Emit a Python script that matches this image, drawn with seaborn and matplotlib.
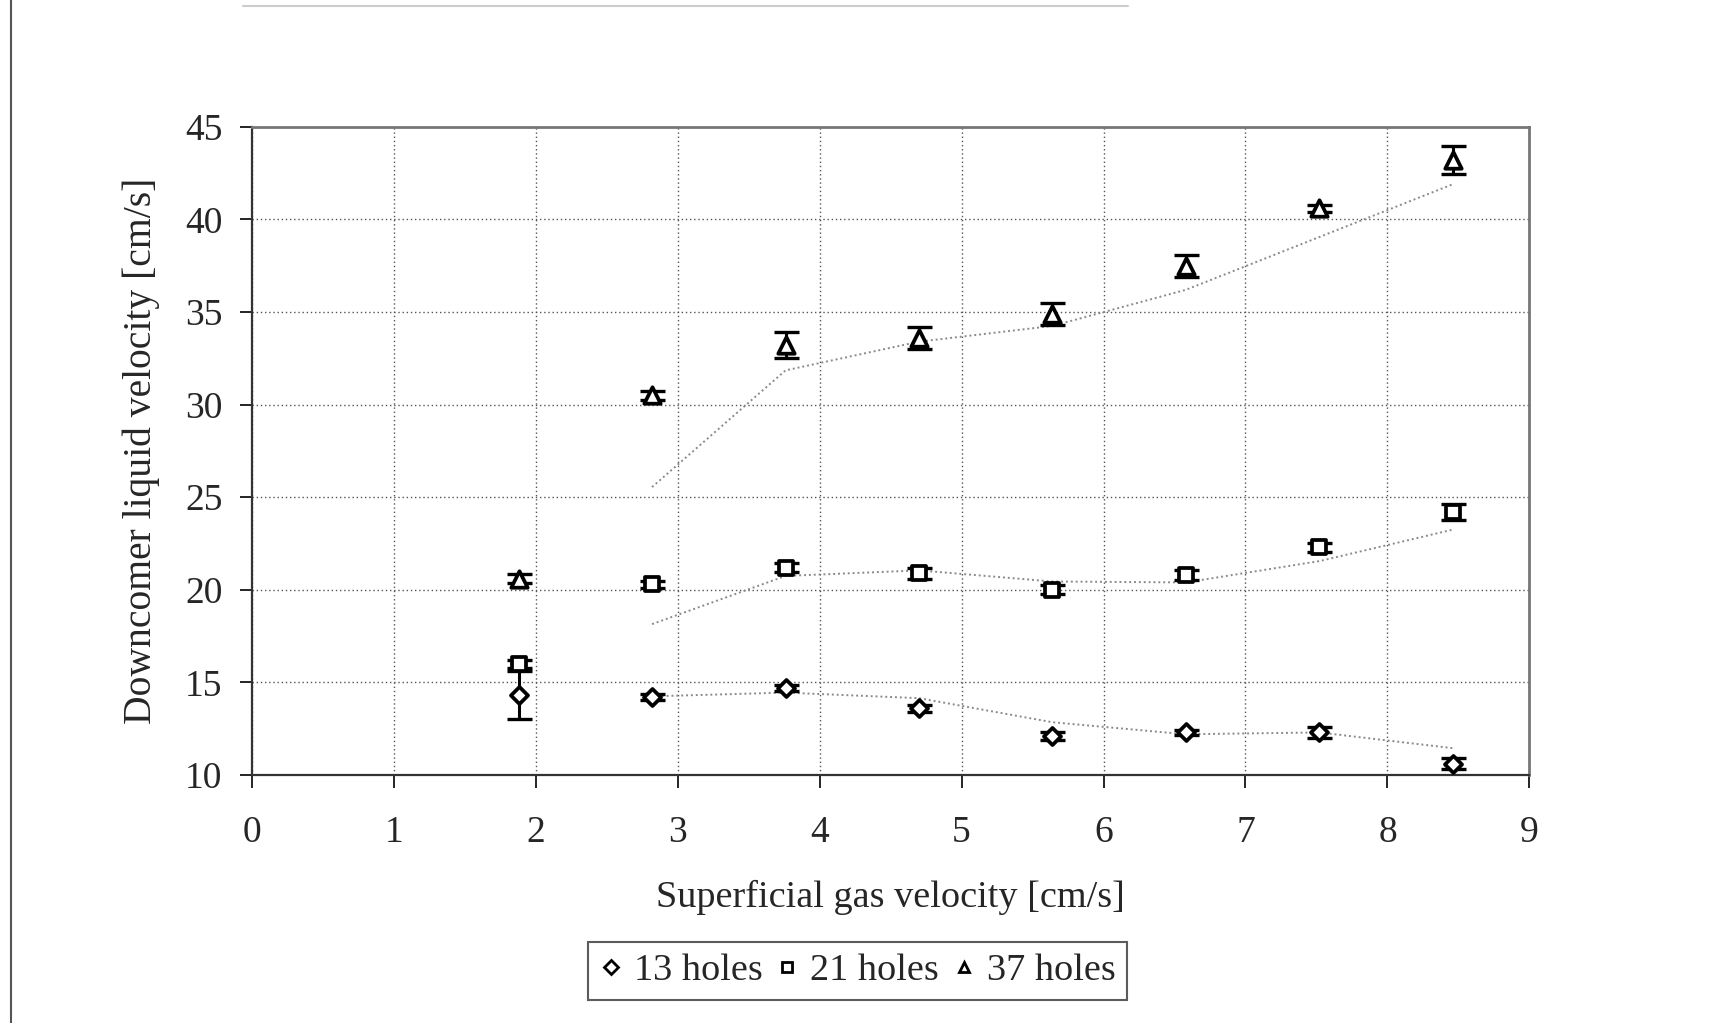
import numpy as np
import pandas as pd
import matplotlib.pyplot as plt
import seaborn as sns
from matplotlib.lines import Line2D

# velocidade superficial do gas [cm/s]
ug = [1.88, 2.82, 3.76, 4.70, 5.64, 6.58, 7.52, 8.46]

# velocidade do liquido no downcomer [cm/s]
v13 = [14.3, 14.2, 14.7, 13.6, 12.1, 12.3, 12.3, 10.6]
v21 = [16.0, 20.3, 21.2, 20.9, 20.0, 20.8, 22.3, 24.2]
v37 = [20.6, 30.5, 33.2, 33.6, 34.9, 37.5, 40.6, 43.2]

# barras de erro
e13 = [1.3, 0.15, 0.15, 0.2, 0.2, 0.15, 0.3, 0.3]
e21 = [0.2, 0.2, 0.25, 0.3, 0.25, 0.25, 0.25, 0.45]
e37 = [0.25, 0.25, 0.7, 0.6, 0.6, 0.6, 0.2, 0.75]

series = ['13 holes', '21 holes', '37 holes']

frames = []
for nome, v, e in zip(series, [v13, v21, v37], [e13, e21, e37]):
    d = pd.DataFrame({'ug': ug, 'vl': v, 'err': e})
    d['serie'] = nome
    # media movel de 2 periodos (linha de tendencia)
    d['mm'] = d['vl'].rolling(2).mean()
    frames.append(d)
df = pd.concat(frames, ignore_index=True)

sns.set_theme(style='white')
plt.rcParams['font.family'] = ['Liberation Serif', 'DejaVu Serif']

fig = plt.figure(figsize=(17.36, 10.23), dpi=100)
ax = fig.add_axes([0.145, 0.2424, 0.736, 0.6336])

# linhas de tendencia
sns.lineplot(data=df.dropna(subset=['mm']), x='ug', y='mm', units='serie', estimator=None,
             color='#8a8a8a', lw=1.4, ls=(0, (1, 1.5)), ax=ax, legend=False)

# barras de erro
for nome in series:
    d = df[df['serie'] == nome]
    ax.errorbar(d['ug'], d['vl'], yerr=d['err'], fmt='none', ecolor='black',
                elinewidth=2.2, capsize=9, capthick=2.4, zorder=3)

marcadores = {'13 holes': 'D', '21 holes': 's', '37 holes': '^'}
tamanhos = {'13 holes': 75, '21 holes': 100, '37 holes': 140}
for nome in series:
    d = df[df['serie'] == nome]
    sns.scatterplot(data=d, x='ug', y='vl', marker=marcadores[nome], s=tamanhos[nome],
                    color='white', edgecolor='black', linewidth=2.7, zorder=4,
                    label=nome, ax=ax)
for col in ax.collections:
    if col.get_label() in series:
        col.set_facecolor('white')

ax.set_xlim(0, 9)
ax.set_ylim(10, 45)
ax.set_xticks(range(0, 10))
ax.set_yticks(range(10, 46, 5))
ax.grid(True, color='#555555', ls=(0, (1, 2)), lw=1.0)
ax.tick_params(axis='both', labelsize=27, direction='out', length=9, width=1.2,
               color='black', bottom=True, left=True)
ax.tick_params(axis='x', pad=20)
ax.tick_params(axis='y', pad=12)
for lado in ['top', 'right']:
    ax.spines[lado].set_color('#777777')
    ax.spines[lado].set_linewidth(2)
for lado in ['left', 'bottom']:
    ax.spines[lado].set_color('#333333')
    ax.spines[lado].set_linewidth(1.6)

ax.set_xlabel('Superficial gas velocity [cm/s]', fontsize=27.5, labelpad=22)
ax.set_ylabel('Downcomer liquid velocity [cm/s]', fontsize=28.5, labelpad=18)

handles = [Line2D([], [], ls='none', marker=marcadores[n], markersize=7, mfc='white',
                  mec='black', mew=2) for n in series]
leg = ax.legend(handles, series, loc='center', bbox_to_anchor=(0.494, 0.051),
                bbox_transform=fig.transFigure, ncol=3, frameon=True, fancybox=False,
                fontsize=27.5, handlelength=0.6, handletextpad=0.3, columnspacing=0.35,
                borderpad=0.3, borderaxespad=0)
leg.get_frame().set_edgecolor('#333333')
leg.get_frame().set_linewidth(1.5)

# borda da pagina digitalizada
fig.add_artist(Line2D([0.0065, 0.0065], [0.0, 1.0], transform=fig.transFigure,
                      color='#555555', lw=1.5))
fig.add_artist(Line2D([0.14, 0.65], [0.994, 0.994], transform=fig.transFigure,
                      color='#cccccc', lw=1.5))

plt.savefig('out.png', dpi=100)
